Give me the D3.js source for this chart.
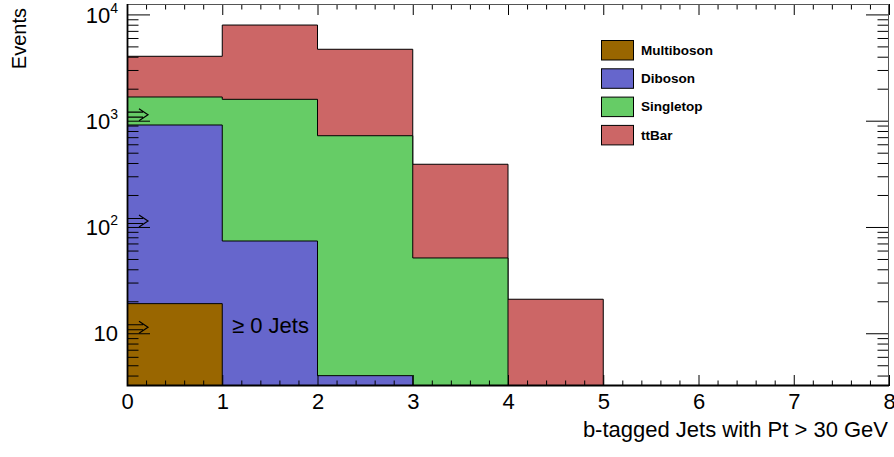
<!DOCTYPE html>
<html>
<head>
<meta charset="utf-8">
<script src="https://cdn.jsdelivr.net/npm/d3@7"></script>
<style>
  body { margin: 0; background: #fff; }
  svg { font-family: "Liberation Sans", Arial, sans-serif; }
  .tick line { stroke: #000; }
</style>
</head>
<body>
<svg id="chart" width="894" height="457"></svg>
<script>
// bin edges 0..8, one value per bin
var binEdges = [0, 1, 2, 3, 4, 5, 6, 7, 8];
var seriesNames = ["Multiboson", "Diboson", "Singletop", "ttBar"];
var seriesColors = ["#996600", "#6666cc", "#66cc66", "#cc6666"];

var multiboson = [19.0, 0, 0, 0, 0, 0, 0, 0];
var diboson    = [892, 73.8, 3.99, 0, 0, 0, 0, 0];
var singletop  = [760, 1515, 718, 51.1, 0, 0, 0, 0];
var ttbar      = [2365, 6354, 3976, 338, 20.9, 0, 0, 0];

var xMajor = [0, 1, 2, 3, 4, 5, 6, 7, 8];
var yMajor = [10, 100, 1000, 10000];
var arrowValues = [1000, 100, 10];

var xTitle = "b-tagged Jets with Pt > 30 GeV";
var yTitle = "Events";
var jetLabel = "\u2265 0 Jets";

var margin = {top: 4, right: 5, bottom: 71, left: 127};
var svg = d3.select("#chart");
var width = 894, height = 457;
var x0 = margin.left, x1 = width - margin.right;
var y0 = height - margin.bottom, y1 = margin.top;

var x = d3.scaleLinear().domain([0, 8]).range([x0, x1]);
var y = d3.scaleLog().domain([3.19, 12530]).range([y0, y1]).clamp(true);

svg.append("clipPath").attr("id", "plotclip")
  .append("rect")
  .attr("x", x0).attr("y", y1)
  .attr("width", x1 - x0).attr("height", y0 - y1);

// stack: cumulative sums, bottom to top
var series = [multiboson, diboson, singletop, ttbar];
var cumul = [];
series.forEach(function(s, i) {
  cumul.push(s.map(function(v, b) { return v + (i > 0 ? cumul[i - 1][b] : 0); }));
});

var area = d3.area()
  .curve(d3.curveStepAfter)
  .x(function(d) { return x(d.x); })
  .y0(y0)
  .y1(function(d) { return d.v > 0 ? y(d.v) : y0; });

var plot = svg.append("g").attr("clip-path", "url(#plotclip)");

// draw the tallest stack first, like ROOT does
for (var i = cumul.length - 1; i >= 0; i--) {
  var pts = binEdges.map(function(e, b) {
    return {x: e, v: cumul[i][Math.min(b, cumul[i].length - 1)]};
  });
  plot.append("path")
    .attr("d", area(pts))
    .attr("fill", seriesColors[i])
    .attr("stroke", "#000")
    .attr("stroke-width", 1);
}

// minor tick values
var xMinor = d3.range(0, 40).map(function(k) { return k * 0.2; }).filter(function(v, k) { return k % 5 != 0; });
var yMinor = [];
[1, 10, 100, 1000].forEach(function(dec) {
  for (var k = 2; k <= 9; k++) {
    var v = k * dec;
    if (v >= y.domain()[0] && v <= y.domain()[1]) yMinor.push(v);
  }
});

function drawAxis(axis, tx, ty) {
  var g = svg.append("g").attr("transform", "translate(" + tx + "," + ty + ")").call(axis);
  g.select(".domain").remove();
  g.selectAll(".tick line").attr("stroke", "#000");
  return g;
}

// bottom
var xb = drawAxis(d3.axisBottom(x).tickValues(xMajor).tickSize(-11).tickPadding(7).tickFormat(d3.format("d")), 0, y0);
xb.selectAll("text").attr("font-size", 22).attr("fill", "#000").attr("font-family", "Liberation Sans, Arial, sans-serif");
drawAxis(d3.axisBottom(x).tickValues(xMinor).tickSize(-5.5).tickFormat(""), 0, y0);
// top
drawAxis(d3.axisTop(x).tickValues(xMajor).tickSize(-11).tickFormat(""), 0, y1);
drawAxis(d3.axisTop(x).tickValues(xMinor).tickSize(-5.5).tickFormat(""), 0, y1);
// left
var yl = drawAxis(d3.axisLeft(y).tickValues(yMajor).tickSize(-23).tickPadding(9).tickFormat(""), x0, 0);
drawAxis(d3.axisLeft(y).tickValues(yMinor).tickSize(-11.5).tickFormat(""), x0, 0);
// right
drawAxis(d3.axisRight(y).tickValues(yMajor).tickSize(-23).tickFormat(""), x1, 0);
drawAxis(d3.axisRight(y).tickValues(yMinor).tickSize(-11.5).tickFormat(""), x1, 0);

// log labels with superscripts
yl.selectAll(".tick text").each(function(d) {
  var t = d3.select(this)
    .attr("font-size", 22)
    .attr("fill", "#000")
    .attr("font-family", "Liberation Sans, Arial, sans-serif")
    .attr("dy", "0.35em");
  var e = Math.round(Math.log10(d));
  t.append("tspan").text("10");
  if (e > 1) {
    t.append("tspan").attr("font-size", 14).attr("dy", -10).text(e);
  }
});

// frame: thin grey on top/right, heavier on the two labelled axes
svg.append("rect")
  .attr("x", x0 + 0.5).attr("y", y1 + 0.5)
  .attr("width", x1 - x0 - 1).attr("height", y0 - y1 - 1)
  .attr("fill", "none").attr("stroke", "#555").attr("stroke-width", 1);
svg.append("path")
  .attr("d", "M" + (x0 + 0.5) + "," + y1 + "V" + (y0 - 0.5) + "H" + x1)
  .attr("fill", "none").attr("stroke", "#000").attr("stroke-width", 1.8);

// double arrows on the left axis
arrowValues.forEach(function(v) {
  var ay = y(v) - 6;
  svg.append("path")
    .attr("d", "M" + x0 + "," + (ay - 2.5) + "H" + (x0 + 16) +
               "M" + x0 + "," + (ay + 2.5) + "H" + (x0 + 16) +
               "M" + (x0 + 12) + "," + (ay - 6) + "L" + (x0 + 21) + "," + ay + "L" + (x0 + 12) + "," + (ay + 6))
    .attr("fill", "none").attr("stroke", "#000").attr("stroke-width", 1.2);
});

svg.append("text")
  .attr("x", 232).attr("y", 333)
  .attr("font-size", 22)
  .text(jetLabel);

// axis titles
svg.append("text")
  .attr("x", 888).attr("y", 437)
  .attr("text-anchor", "end")
  .attr("font-size", 22)
  .text(xTitle);

svg.append("text")
  .attr("transform", "translate(25.5,8) rotate(-90)")
  .attr("text-anchor", "end")
  .attr("font-size", 20)
  .text(yTitle);

// legend
var legend = svg.append("g").attr("transform", "translate(601,40)");
seriesNames.forEach(function(name, i) {
  var row = legend.append("g").attr("transform", "translate(0," + (i * 28.3) + ")");
  row.append("rect")
    .attr("x", 0.5).attr("y", 0.5)
    .attr("width", 32).attr("height", 19.5)
    .attr("fill", seriesColors[i])
    .attr("stroke", "#000").attr("stroke-width", 1);
  row.append("text")
    .attr("x", 40).attr("y", 10).attr("dy", "0.35em")
    .attr("font-size", 13.5).attr("font-weight", "bold")
    .text(name);
});
</script>
</body>
</html>
